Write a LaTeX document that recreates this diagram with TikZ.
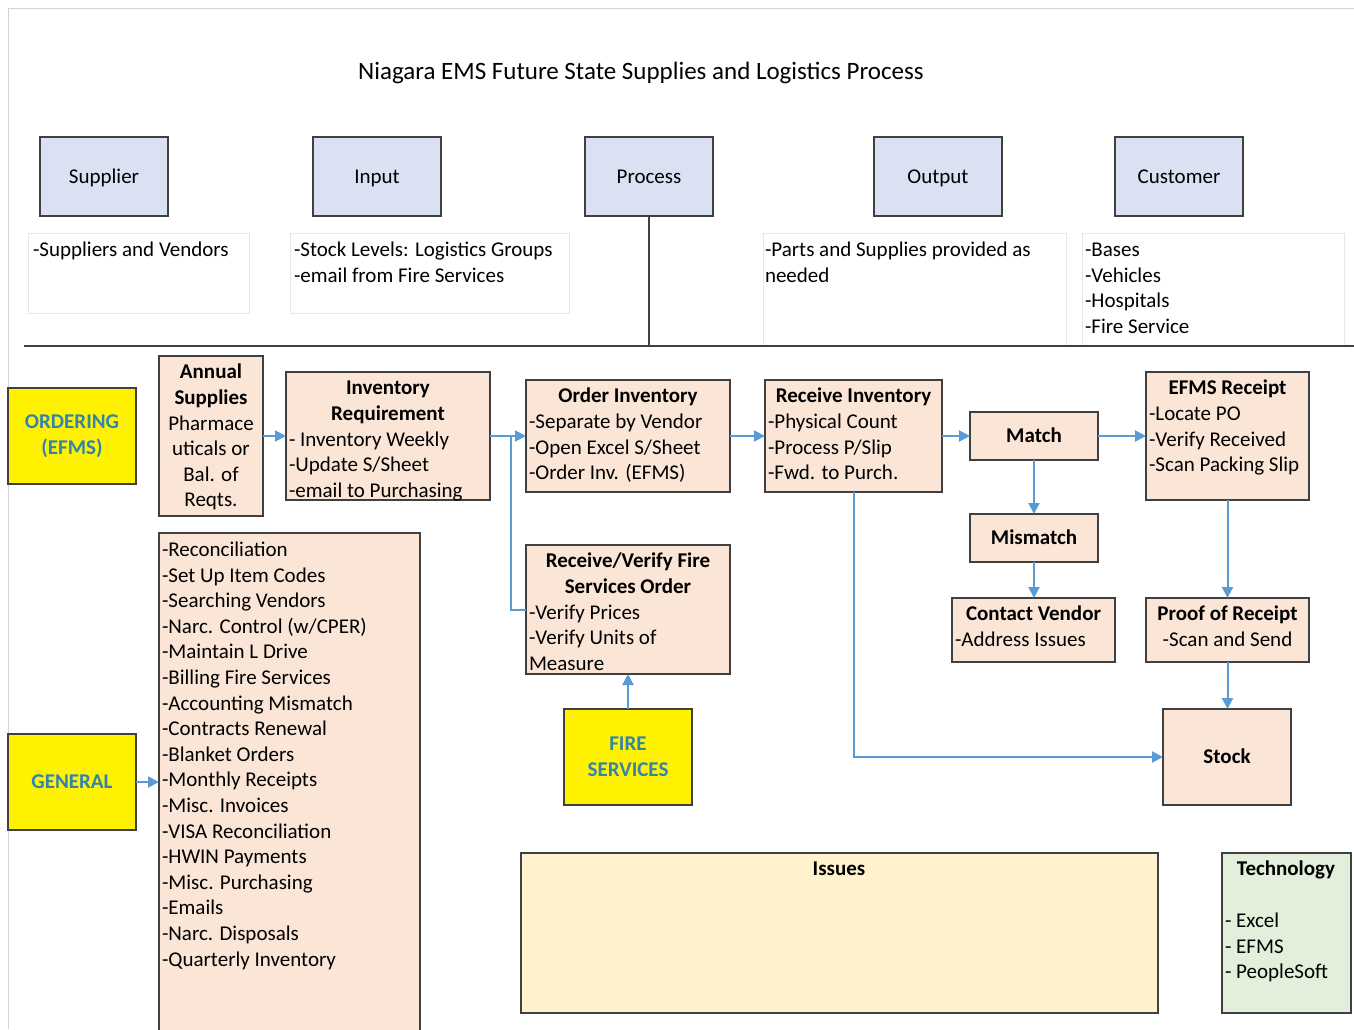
\documentclass[tikz,border=0pt]{standalone}
\usepackage{fontspec}
\setmainfont{Carlito}
\usetikzlibrary{arrows.meta}
\definecolor{hdrblue}{HTML}{D9E1F2}
\definecolor{peach}{HTML}{FBE5D6}
\definecolor{labteal}{RGB}{50,132,172}
\definecolor{arrblue}{HTML}{5B9BD5}
\definecolor{issuefill}{HTML}{FFF2CC}
\definecolor{techfill}{HTML}{E2EFDA}
\definecolor{edgegray}{HTML}{404040}
\definecolor{framegray}{HTML}{D4D4D4}
\definecolor{notegray}{HTML}{E6E6E6}
\newcommand\bodyfont{\fontsize{21}{25.6}\selectfont}
\newcommand\titlefont{\fontsize{25}{30}\selectfont}
% top-aligned text block of given width and height
\newcommand\tb[3]{\parbox[c][#2pt][t]{#1pt}{\vspace*{5pt}\strut#3}}
\tikzset{
 box/.style={draw=edgegray, line width=1.4pt, inner sep=0pt, outer sep=0pt, anchor=north west, font=\bodyfont},
 hdr/.style={box, fill=hdrblue, minimum width=128, minimum height=79, text height=18, text depth=4.4},
 pbox/.style={box, fill=peach},
 single/.style={font=\bodyfont\bfseries, text height=18, text depth=4.4},
 ybox/.style={box, fill=yellow, minimum width=128, minimum height=96, text=labteal, font=\bodyfont\bfseries, align=center},
 note/.style={draw=notegray, line width=0.8pt, anchor=north west, inner sep=0pt, outer sep=0pt},
 txt/.style={inner sep=0pt, outer sep=0pt, font=\bodyfont, align=left},
 arr/.style={draw=arrblue, line width=2pt, -{Triangle[length=11pt,width=11pt]}},
 link/.style={draw=arrblue, line width=2pt},
}
\begin{document}
\begin{tikzpicture}[x=1pt,y=-1pt]
\useasboundingbox (0,0) rectangle (1354,1029);
\fill[white] (0,0) rectangle (1354,1029);
\draw[framegray, line width=1pt] (8,1029) -- (8,8) -- (1354,8);

\node[font=\titlefont, inner sep=0pt, text height=21, text depth=6] (title) at (641,72) {Niagara EMS Future State Supplies and Logistics Process};

% header boxes
\node[hdr] (supplier) at (40,137) {Supplier};
\node[hdr] (input) at (313,137) {Input};
\node[hdr] (process) at (585,137) {Process};
\node[hdr] (output) at (874,137) {Output};
\node[hdr] (customer) at (1115,137) {Customer};

% header notes
\node[note, minimum width=221, minimum height=80] (supnote) at (28,233) {};
\node[txt, anchor=north west] (suptxt) at (33,238.5) {\strut-Suppliers and Vendors};
\node[note, minimum width=279, minimum height=80] (innote) at (290,233) {};
\node[txt, anchor=north west] (intxt) at (294,238.5) {\strut-Stock Levels: Logistics Groups\\-email from Fire Services};
\node[note, minimum width=303, minimum height=112] (outnote) at (763,233) {};
\node[txt, anchor=north west] (outtxt) at (765,238.5) {\strut-Parts and Supplies provided as\\needed};
\node[note, minimum width=262, minimum height=112] (custnote) at (1082,233) {};
\node[txt, anchor=north west] (custtxt) at (1085,238.5) {\strut-Bases\\-Vehicles\\-Hospitals\\-Fire Service};

% separator
\coordinate (sep) at (649,346);
\draw[edgegray, line width=1.5pt] (process.south) -- (sep);
\draw[edgegray, line width=2pt] (24,346) -- (1354,346);

% yellow boxes
\node[ybox] (ordering) at (8,388) {ORDERING\\(EFMS)};
\node[ybox, text height=18, text depth=4.4] (general) at (8,734) {GENERAL};
\node[ybox] (fire) at (564,709) {FIRE\\SERVICES};

% process boxes
\node[pbox, minimum width=104, minimum height=160] (annual) at (159,356)
 {\tb{100}{160}{\centering\textbf{Annual}\\\textbf{Supplies}\\Pharmace\\uticals or\\Bal. of\\Reqts.}};
\node[pbox, minimum width=204, minimum height=128] (invreq) at (286,372)
 {\tb{198}{128}{\centering\textbf{Inventory}\\\textbf{Requirement}\par\raggedright - Inventory Weekly\\-Update S/Sheet\\-email to Purchasing}};
\node[pbox, minimum width=204, minimum height=112] (ordinv) at (526,380)
 {\tb{198}{112}{\centering\textbf{Order Inventory}\par\raggedright -Separate by Vendor\\-Open Excel S/Sheet\\-Order Inv. (EFMS)}};
\node[pbox, minimum width=177, minimum height=112] (recinv) at (765,380)
 {\tb{171}{112}{\centering\textbf{Receive Inventory}\par\raggedright -Physical Count\\-Process P/Slip\\-Fwd. to Purch.}};
\node[pbox, single, minimum width=128, minimum height=48] (match) at (970,412) {Match};
\node[pbox, minimum width=163, minimum height=128] (efms) at (1146,372)
 {\tb{157}{128}{\centering\textbf{EFMS Receipt}\par\raggedright -Locate PO\\-Verify Received\\-Scan Packing Slip}};
\node[pbox, single, minimum width=128, minimum height=48] (mismatch) at (970,514) {Mismatch};
\node[pbox, minimum width=163, minimum height=64] (contact) at (952,598)
 {\tb{157}{64}{\centering\textbf{Contact Vendor}\par\raggedright -Address Issues}};
\node[pbox, minimum width=163, minimum height=64] (proof) at (1146,598)
 {\tb{157}{64}{\centering\textbf{Proof of Receipt}\\-Scan and Send}};
\node[pbox, single, minimum width=128, minimum height=96] (stock) at (1163,709) {Stock};
\node[pbox, minimum width=204, minimum height=129] (verify) at (526,545)
 {\tb{198}{129}{\centering\textbf{Receive/Verify Fire}\\\textbf{Services Order}\par\raggedright -Verify Prices\\-Verify Units of\\Measure}};

% general list
\node[pbox, minimum width=261, minimum height=520] (list) at (159,533) {};
\node[txt, anchor=north west] (listtxt) at (162,538.5) {\strut-Reconciliation\\-Set Up Item Codes\\-Searching Vendors\\-Narc. Control (w/CPER)\\-Maintain L Drive\\-Billing Fire Services\\-Accounting Mismatch\\-Contracts Renewal\\-Blanket Orders\\-Monthly Receipts\\-Misc. Invoices\\-VISA Reconciliation\\-HWIN Payments\\-Misc. Purchasing\\-Emails\\-Narc. Disposals\\-Quarterly Inventory};

% issues and technology
\node[box, fill=issuefill, minimum width=637, minimum height=160] (issues) at (521,853) {};
\node[txt, single] (issueslbl) at (839,869) {Issues};
\node[box, fill=techfill, minimum width=129, minimum height=160] (tech) at (1222,853) {};
\node[txt, single] (techlbl) at (1286,869) {Technology};
\node[txt, anchor=north west] (techlist) at (1225,909.5) {\strut- Excel\\- EFMS\\- PeopleSoft};

% connectors
\coordinate (j1) at (511,436);
\draw[arr] (annual) -- (invreq);
\draw[arr] (invreq) -- (ordinv);
\draw[link] (verify.west) -| (j1);
\draw[arr] (ordinv) -- (recinv);
\draw[arr] (recinv) -- (match);
\draw[arr] (match) -- (efms);
\draw[arr] (match) -- (mismatch);
\draw[arr] (mismatch.south) -- (mismatch.south |- contact.north);
\draw[arr] (efms) -- (proof);
\draw[arr] (proof.south) -- (proof.south |- stock.north);
\draw[arr] (recinv.south) |- (stock.west);
\draw[arr] (fire) -- (verify);
\draw[arr] (general) -- (general -| list.west);
\end{tikzpicture}
\end{document}
